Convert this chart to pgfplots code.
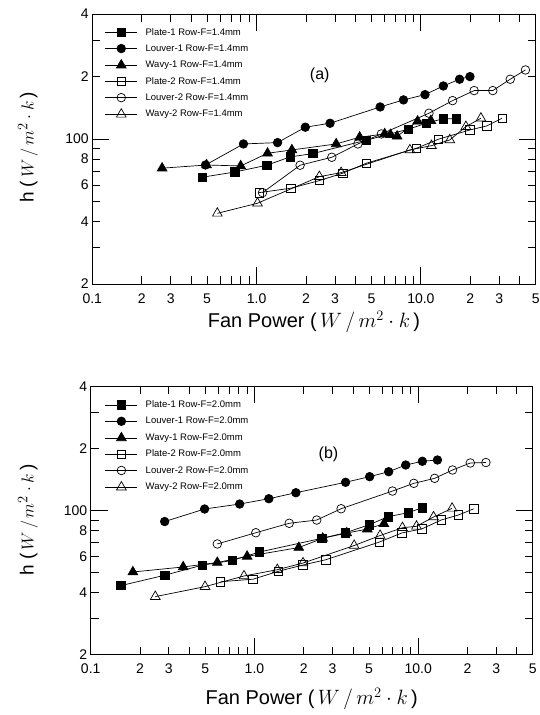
\documentclass[border=0pt]{standalone}
\usepackage{pgfplots}
\pgfplotsset{compat=1.18}
\usepackage{fontspec}
\setmainfont{Liberation Sans}
\newcommand\legfont{\fontsize{9.5}{11}\selectfont}
\pgfplotsset{
  mylegimg/.style={legend image code/.code={\draw[mark repeat=2,mark phase=2,##1] plot coordinates {(0pt,0pt) (16pt,0pt) (32pt,0pt)};}},
}

\begin{document}
\begin{tikzpicture}
\path[use as bounding box] (0pt,0pt) rectangle (539pt,715pt);

% ---------------- panel (a)
\begin{loglogaxis}[at={(92.3pt,431pt)}, anchor=south west, scale only axis, width=443.4pt, height=270pt,
    xmin=0.1, xmax=50, ymin=20, ymax=400,
    xtick={0.1,1,10}, xticklabels={0.1,1.0,10.0},
    minor xtick={0.2,0.3,0.4,0.5,0.6,0.7,0.8,0.9,2,3,4,5,6,7,8,9,20,30,40},
    extra x ticks={0.2,0.3,0.5,2,3,5,20,30,50}, extra x tick labels={2,3,5,2,3,5,2,3,5},
    extra x tick style={major tick length=8pt},
    ytick={100}, yticklabels={100},
    minor ytick={30,50,70,90,300},
    extra y ticks={20,40,60,80,200,400}, extra y tick labels={2,4,6,8,2,4},
    extra y tick style={major tick length=8pt},
    major tick length=17pt, minor tick length=8pt,
    tick style={black, line width=0.8pt},
    axis line style={line width=0.9pt},
    tick label style={font=\fontsize{14}{14}\selectfont},
    xticklabel style={yshift=-6pt},
    legend cell align=left,
    legend style={draw=none, fill=none, inner sep=0pt, row sep=6pt,
      font=\legfont,
      nodes={inner sep=1pt, font=\legfont},
      /tikz/every odd column/.append style={column sep=7pt},
      anchor=north west, at={(axis description cs:0.028,0.952)}},
    xlabel={Fan Power (\,$W\,/\,m^{2}\cdot k$\,)},
    ylabel={h (\,$W\,/\,m^{2}\cdot k$\,)},
    xlabel style={font=\fontsize{20}{20}\selectfont, at={(axis description cs:0.5,-0.141)}, anchor=center},
    ylabel style={font=\fontsize{19}{19}\selectfont, at={(axis description cs:-0.145,0.506)}, anchor=center},
]
\addplot[black, line width=0.7pt, mark=square*, mark size=4.2pt, mylegimg] coordinates {(0.467,65.4)(0.739,69.3)(1.154,74.7)(1.60,81.9)(2.20,85.0)(4.66,98.6)(8.37,111.4)(10.8,119.0)(13.7,125.2)(16.4,125.2)};
\addlegendentry{Plate-1 Row-F=1.4mm}
\addplot[black, line width=0.7pt, mark=*, mark size=4.3pt, mylegimg] coordinates {(0.489,74.9)(0.832,94.6)(1.342,96.0)(1.98,113.9)(2.80,119.0)(5.65,142.6)(7.84,154.2)(10.6,163.5)(13.7,180.0)(17.2,194.0)(19.9,199.7)};
\addlegendentry{Louver-1 Row-F=1.4mm}
\addplot[black, line width=0.7pt, mark=triangle*, mark size=5.6pt, mylegimg] coordinates {(0.266,72.3)(0.496,74.9)(0.800,74.1)(1.166,85.3)(1.64,88.5)(3.05,94.6)(4.24,101.9)(6.02,105.7)(6.53,104.9)(7.17,103.0)(9.55,121.7)(11.5,122.5)};
\addlegendentry{Wavy-1 Row-F=1.4mm}
\addplot[black, line width=0.7pt, mark=square, mark size=4.2pt, mylegimg] coordinates {(1.036,55.1)(1.62,57.9)(2.41,63.0)(3.35,68.4)(4.66,76.4)(9.41,90.2)(12.8,99.7)(19.9,110.5)(25.2,115.5)(31.2,125.8)};
\addlegendentry{Plate-2 Row-F=1.4mm}
\addplot[black, line width=0.7pt, mark=o, mark size=4.3pt, mylegimg] coordinates {(1.087,55.1)(1.84,74.7)(2.87,81.6)(4.14,94.6)(5.75,105.7)(11.2,133.0)(15.6,153.0)(21.1,171.0)(27.4,171.0)(35.0,194.0)(43.3,215.0)};
\addlegendentry{Louver-2 Row-F=1.4mm}
\addplot[black, line width=0.7pt, mark=triangle, mark size=5.6pt, mylegimg] coordinates {(0.577,43.8)(1.013,49.0)(2.41,65.8)(3.27,68.8)(8.57,88.5)(11.6,92.8)(15.0,98.9)(18.8,114.6)(23.2,125.8)};
\addlegendentry{Wavy-2 Row-F=1.4mm}
\node[font=\fontsize{16}{16}\selectfont] at (axis description cs:0.513,0.774) {(a)};
\end{loglogaxis}

% ---------------- panel (b)
\begin{loglogaxis}[at={(90.7pt,60.5pt)}, anchor=south west, scale only axis, width=442pt, height=268pt,
    xmin=0.1, xmax=50, ymin=20, ymax=400,
    xtick={0.1,1,10}, xticklabels={0.1,1.0,10.0},
    minor xtick={0.2,0.3,0.4,0.5,0.6,0.7,0.8,0.9,2,3,4,5,6,7,8,9,20,30,40},
    extra x ticks={0.2,0.3,0.5,2,3,5,20,30,50}, extra x tick labels={2,3,5,2,3,5,2,3,5},
    extra x tick style={major tick length=8pt},
    ytick={100}, yticklabels={100},
    minor ytick={30,50,70,90,300},
    extra y ticks={20,40,60,80,200,400}, extra y tick labels={2,4,6,8,2,4},
    extra y tick style={major tick length=8pt},
    major tick length=17pt, minor tick length=8pt,
    tick style={black, line width=0.8pt},
    axis line style={line width=0.9pt},
    tick label style={font=\fontsize{14}{14}\selectfont},
    xticklabel style={yshift=-6pt},
    legend cell align=left,
    legend style={draw=none, fill=none, inner sep=0pt, row sep=6pt,
      font=\legfont,
      nodes={inner sep=1pt, font=\legfont},
      /tikz/every odd column/.append style={column sep=7pt},
      anchor=north west, at={(axis description cs:0.032,0.951)}},
    xlabel={Fan Power (\,$W\,/\,m^{2}\cdot k$\,)},
    ylabel={h (\,$W\,/\,m^{2}\cdot k$\,)},
    xlabel style={font=\fontsize{20}{20}\selectfont, at={(axis description cs:0.5,-0.166)}, anchor=center},
    ylabel style={font=\fontsize{19}{19}\selectfont, at={(axis description cs:-0.142,0.502)}, anchor=center},
]
\addplot[black, line width=0.7pt, mark=square*, mark size=4.2pt, mylegimg] coordinates {(0.153,43.2)(0.283,48.5)(0.480,54.3)(0.731,57.2)(1.073,62.9)(2.58,73.3)(3.60,78.0)(5.01,85.3)(6.55,93.3)(8.68,97.6)(10.6,103.2)};
\addlegendentry{Plate-1 Row-F=2.0mm}
\addplot[black, line width=0.7pt, mark=*, mark size=4.3pt, mylegimg] coordinates {(0.283,88.4)(0.496,101.7)(0.812,107.5)(1.224,114.1)(1.79,122.0)(3.60,137.1)(5.05,146.0)(6.60,154.3)(8.39,166.3)(10.6,173.4)(13.1,175.9)};
\addlegendentry{Louver-1 Row-F=2.0mm}
\addplot[black, line width=0.7pt, mark=triangle*, mark size=5.6pt, mylegimg] coordinates {(0.181,50.3)(0.367,53.2)(0.593,55.9)(0.902,59.9)(1.865,66.1)(2.61,73.3)(3.66,77.8)(4.89,81.2)(6.17,86.3)};
\addlegendentry{Wavy-1 Row-F=2.0mm}
\addplot[black, line width=0.7pt, mark=square, mark size=4.2pt, mylegimg] coordinates {(0.621,45.1)(0.980,46.4)(1.40,50.7)(1.98,54.4)(2.73,57.7)(5.77,70.2)(7.93,77.8)(10.55,81.5)(13.8,89.9)(17.6,95.1)(21.8,101.9)};
\addlegendentry{Plate-2 Row-F=2.0mm}
\addplot[black, line width=0.7pt, mark=o, mark size=4.3pt, mylegimg] coordinates {(0.593,68.8)(1.019,78.0)(1.63,86.7)(2.40,89.9)(3.38,102.0)(6.96,124.3)(9.40,135.5)(12.6,143.3)(16.2,157.3)(20.8,170.1)(25.9,171.0)};
\addlegendentry{Louver-2 Row-F=2.0mm}
\addplot[black, line width=0.7pt, mark=triangle, mark size=5.6pt, mylegimg] coordinates {(0.248,38.2)(0.499,42.7)(0.863,48.1)(1.38,51.6)(1.98,55.6)(4.06,67.6)(5.85,75.6)(8.01,82.5)(9.76,83.8)(12.4,93.0)(16.1,102.5)};
\addlegendentry{Wavy-2 Row-F=2.0mm}
\node[font=\fontsize{16}{16}\selectfont] at (axis description cs:0.538,0.747) {(b)};
\end{loglogaxis}
\end{tikzpicture}
\end{document}
